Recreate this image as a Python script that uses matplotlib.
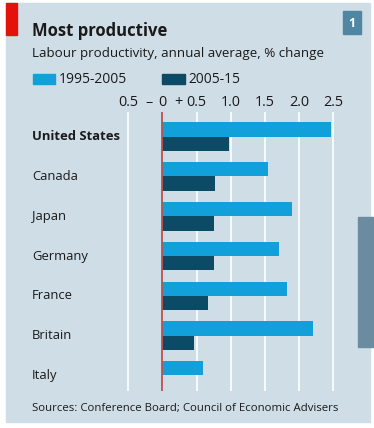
import matplotlib
matplotlib.use("Agg")
import matplotlib.pyplot as plt
from matplotlib.patches import Rectangle
from matplotlib.transforms import blended_transform_factory

countries = ["United States", "Canada", "Japan", "Germany", "France", "Britain", "Italy"]
p1995_2005 = [2.47, 1.54, 1.89, 1.70, 1.83, 2.20, 0.59]
p2005_15 = [0.97, 0.77, 0.76, 0.76, 0.67, 0.47, 0.0]
tick_pos = [-0.5, -0.2, 0, 0.23, 0.5, 1.0, 1.5, 2.0, 2.5]
tick_labels = ["0.5", "–", "0", "+", "0.5", "1.0", "1.5", "2.0", "2.5"]
grid_pos = [-0.5, 0.5, 1.0, 1.5, 2.0, 2.5]

BG = "#cfdde6"
LIGHT = "#12a0da"
DARK = "#0c4a65"
TXT = "#1a1a1a"
FONT = "Open Sans"
plt.rcParams["font.family"] = [FONT, "DejaVu Sans"]

W, H = 374, 428
fig = plt.figure(figsize=(W / 100, H / 100), dpi=100)
fig.patch.set_facecolor("white")
renderer = fig.canvas.get_renderer()


def fit(t, target):
    for _ in range(3):
        w = t.get_window_extent(renderer).width
        t.set_fontsize(t.get_fontsize() * target / w)
    return t.get_fontsize()


deco = fig.add_axes([0, 0, 1, 1])
deco.set_xlim(0, W)
deco.set_ylim(H, 0)
deco.axis("off")
deco.add_patch(Rectangle((6, 3), 364, 419, color=BG, zorder=0))
deco.add_patch(Rectangle((6, 3), 11, 32, color="#e3120b", zorder=1))
deco.add_patch(Rectangle((343, 11), 18, 23, color="#4f87a3", zorder=1))
deco.text(352, 23, "1", color="white", fontsize=9, fontweight="bold", ha="center", va="center")
deco.add_patch(Rectangle((358, 217), 16, 130, color="#6b8ca0", zorder=1))
fit(deco.text(32, 31, "Most productive", fontsize=12, fontweight="bold", color=TXT, va="center"), 135)
fit(deco.text(32, 53, "Labour productivity, annual average, % change", fontsize=9, color=TXT, va="center"), 293)
deco.add_patch(Rectangle((33, 74), 22.5, 10, color=LIGHT))
fit(deco.text(59, 79.5, "1995-2005", fontsize=9, color=TXT, va="center"), 68)
deco.add_patch(Rectangle((162.5, 74), 22.5, 10, color=DARK))
fit(deco.text(188, 79.5, "2005-15", fontsize=9, color=TXT, va="center"), 52)
fit(deco.text(32, 408, "Sources: Conference Board; Council of Economic Advisers", fontsize=8, color=TXT, va="center"), 308)

x0, x1 = 110, 352
y0, y1 = 112, 391
zero_px, unit_px = 162.3, 68.4
ax = fig.add_axes([x0 / W, 1 - y1 / H, (x1 - x0) / W, (y1 - y0) / H])
ax.set_xlim((x0 - zero_px) / unit_px, (x1 - zero_px) / unit_px)
step = 39.8
first = 136.7
ax.set_ylim((y1 - first) / step, (y0 - first) / step)
ax.patch.set_alpha(0)
for s in ax.spines.values():
    s.set_visible(False)

idx = list(range(len(countries)))
h = 0.36
ax.barh([i - h / 2 for i in idx], p1995_2005, height=h, color=LIGHT, zorder=3)
ax.barh([i + h / 2 for i in idx], p2005_15, height=h, color=DARK, zorder=3)
for g in grid_pos:
    ax.axvline(g, color="white", lw=1.2, zorder=1)
ax.axvline(0, color="#c0504d", lw=1.3, zorder=4)

probe = deco.text(0, 0, "2.5", fontsize=9)
tick_fs = fit(probe, 20)
probe.remove()

ax.set_yticks([])
ax.xaxis.tick_top()
ax.set_xticks(tick_pos)
ax.set_xticklabels(tick_labels, fontsize=tick_fs, color=TXT)
ax.tick_params(axis="x", length=0, pad=1.5)

probe = deco.text(0, 0, "Canada", fontsize=9)
cat_fs = fit(probe, 46)
probe.remove()
probe = deco.text(0, 0, "United States", fontsize=9, fontweight="bold")
us_fs = fit(probe, 88)
probe.remove()

tr = blended_transform_factory(fig.transFigure, ax.transData)
for i, c in enumerate(countries):
    ax.text(32 / W, i, c, transform=tr, fontsize=us_fs if i == 0 else cat_fs, color=TXT,
            va="center", ha="left", fontweight="bold" if i == 0 else "normal")

fig.savefig("out.png", dpi=100, facecolor="white")
